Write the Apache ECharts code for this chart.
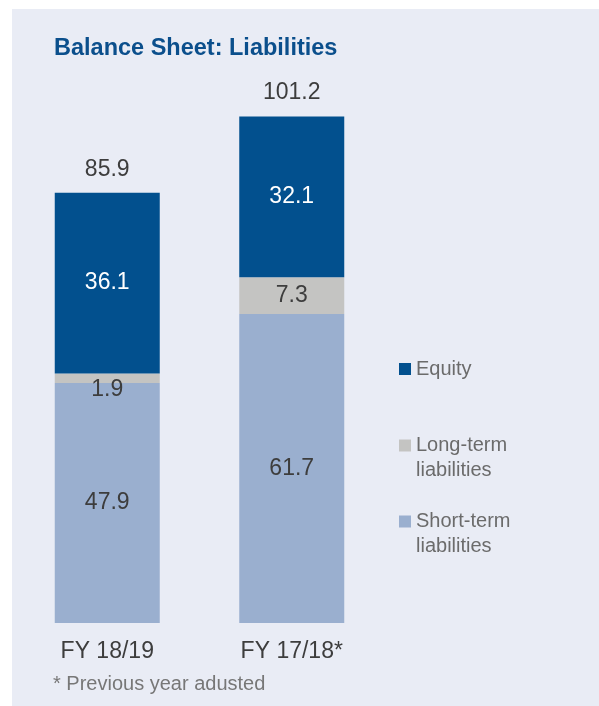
<!DOCTYPE html>
<html>
<head>
<meta charset="utf-8">
<title>Balance Sheet: Liabilities</title>
<script src="https://cdn.jsdelivr.net/npm/echarts@6/dist/echarts.min.js"></script>
<style>
  html, body { margin: 0; padding: 0; background: #ffffff; }
  #chart { width: 599px; height: 706px; }
</style>
</head>
<body>
<div id="chart"></div>
<script>
// values (EUR bn)
const categories = ['FY 18/19', 'FY 17/18*'];
const shortTerm = [47.9, 61.7];
const longTerm = [1.9, 7.3];
const equity = [36.1, 32.1];
const totals = [85.9, 101.2];
const footnote = '* Previous year adusted';

const fontFamily = "'Liberation Sans', Arial, sans-serif";
const darkText = '#3d3d3d';

// thin slices can't hold their number, so it goes just under them
function segmentData(values) {
  return values.map(v => {
    if (v < 3) {
      return { value: v, label: { position: 'bottom', distance: -5 } };
    }
    return v;
  });
}

function legendAt(name, top) {
  const twoLines = name.indexOf(' ') > -1;
  return {
    data: [name],
    left: 399,
    top: top,
    orient: 'vertical',
    padding: 0,
    icon: 'rect',
    itemWidth: 12,
    itemHeight: 12,
    selectedMode: false,
    // empty first line keeps the square level with the first word
    formatter: n => twoLines ? '\n' + n.replace(' ', '\n') : n,
    textStyle: {
      fontFamily: fontFamily,
      fontSize: 20,
      color: '#6b6b6b',
      lineHeight: 25
    }
  };
}

let myChart = echarts.init(document.getElementById('chart'));
myChart.setOption({
  backgroundColor: '#ffffff',
  animation: false,
  title: {
    text: 'Balance Sheet: Liabilities',
    left: 54,
    top: 37,
    padding: 0,
    textStyle: {
      fontFamily: fontFamily,
      fontSize: 23.5,
      fontWeight: 'bold',
      color: '#0b4f8c'
    }
  },
  legend: [
    legendAt('Equity', 356.5),
    legendAt('Long-term liabilities', 408),
    legendAt('Short-term liabilities', 484)
  ],
  graphic: [
    {
      type: 'rect',
      z: -10,
      shape: { x: 12, y: 9, width: 587, height: 697 },
      style: { fill: '#e9ecf5' },
      silent: true
    },
    {
      type: 'text',
      left: 53,
      top: 674,
      style: {
        text: footnote,
        fontFamily: fontFamily,
        fontSize: 20,
        fill: '#777777'
      }
    }
  ],
  grid: {
    left: 15,
    width: 369,
    top: 72,
    bottom: 83
  },
  xAxis: {
    type: 'category',
    data: categories,
    axisLine: { show: false },
    axisTick: { show: false },
    axisLabel: {
      margin: 17,
      fontFamily: fontFamily,
      fontSize: 23,
      color: darkText
    }
  },
  yAxis: {
    type: 'value',
    min: 0,
    max: 110,
    show: false,
    splitLine: { show: false }
  },
  series: [
    {
      name: 'Short-term liabilities',
      type: 'bar',
      stack: 'total',
      barWidth: 105,
      data: segmentData(shortTerm),
      itemStyle: { color: '#9aafcf' },
      label: {
        show: true,
        position: 'inside',
        fontFamily: fontFamily,
        fontSize: 23,
        color: darkText
      }
    },
    {
      name: 'Long-term liabilities',
      type: 'bar',
      stack: 'total',
      data: segmentData(longTerm),
      itemStyle: { color: '#c4c4c2' },
      label: {
        show: true,
        position: 'inside',
        fontFamily: fontFamily,
        fontSize: 23,
        color: darkText
      }
    },
    {
      name: 'Equity',
      type: 'bar',
      stack: 'total',
      data: segmentData(equity),
      itemStyle: { color: '#02508e' },
      label: {
        show: true,
        position: 'inside',
        fontFamily: fontFamily,
        fontSize: 23,
        color: '#ffffff'
      }
    },
    {
      // zero-height cap, only carries the total above each column
      name: 'Total',
      type: 'bar',
      stack: 'total',
      data: totals.map(() => 0),
      itemStyle: { color: 'transparent' },
      label: {
        show: true,
        position: 'top',
        distance: 12,
        fontFamily: fontFamily,
        fontSize: 23,
        color: darkText,
        formatter: p => totals[p.dataIndex].toFixed(1)
      }
    }
  ]
});
</script>
</body>
</html>
